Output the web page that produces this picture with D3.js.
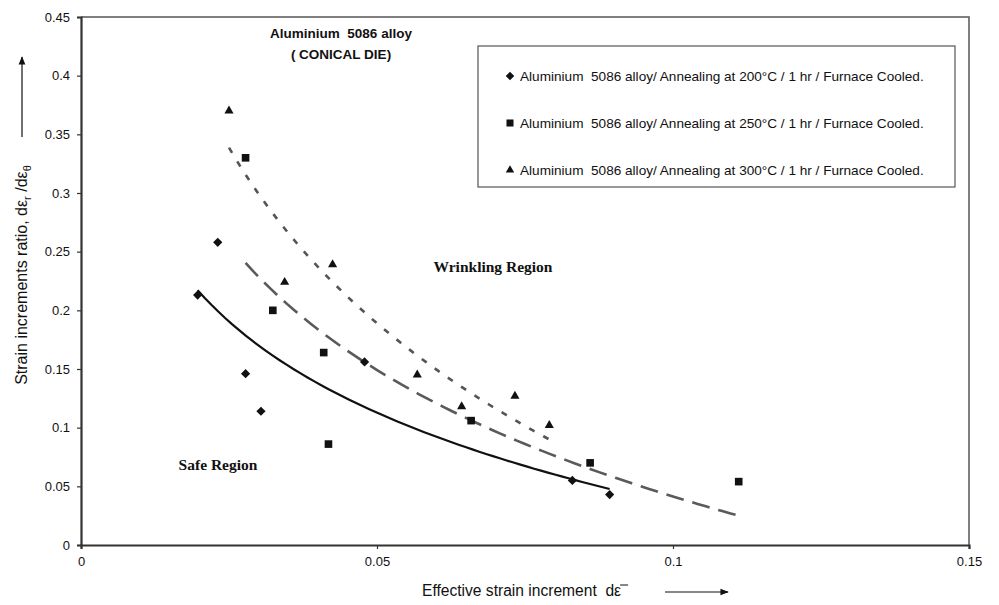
<!DOCTYPE html>
<html lang="en">
  <head>
    <meta charset="UTF-8" />
    <title>Aluminium 5086 alloy - conical die</title>
    <style>
      body {
        margin: 0;
        background: #fff;
      }
      text {
        font-family: "Liberation Sans", Arial, sans-serif;
        fill: #111;
      }
      .region {
        font-family: "Liberation Serif", "Times New Roman", serif;
        font-weight: bold;
        font-size: 15.5px;
      }
    </style>
  </head>
  <body>
    <svg id="chart" width="999" height="605"></svg>
  </body>
  <script src="https://cdn.jsdelivr.net/npm/d3@7"></script>
  <script>
    // values
    let xTicks = [0, 0.05, 0.1, 0.15];
    let yTicks = [0, 0.05, 0.1, 0.15, 0.2, 0.25, 0.3, 0.35, 0.4, 0.45];

    let x200 = [0.0197, 0.0231, 0.0278, 0.0304, 0.0479, 0.083, 0.0893];
    let y200 = [0.213, 0.258, 0.146, 0.114, 0.156, 0.055, 0.043];

    let x250 = [0.0278, 0.0324, 0.041, 0.0418, 0.0659, 0.086, 0.1111];
    let y250 = [0.33, 0.2, 0.164, 0.086, 0.106, 0.07, 0.054];

    let x300 = [0.025, 0.0344, 0.0425, 0.0568, 0.0643, 0.0733, 0.0791];
    let y300 = [0.37, 0.224, 0.239, 0.145, 0.118, 0.127, 0.102];

    let legendLabels = [
      "Aluminium  5086 alloy/ Annealing at 200°C / 1 hr / Furnace Cooled.",
      "Aluminium  5086 alloy/ Annealing at 250°C / 1 hr / Furnace Cooled.",
      "Aluminium  5086 alloy/ Annealing at 300°C / 1 hr / Furnace Cooled.",
    ];

    let series = [
      { xs: x200, ys: y200, symbol: d3.symbolDiamond2, size: 54, dash: null, color: "#111", width: 2.2 },
      { xs: x250, ys: y250, symbol: d3.symbolSquare2, size: 74, dash: "18,9", color: "#5a5a5a", width: 2.6 },
      { xs: x300, ys: y300, symbol: d3.symbolTriangle2, size: 60, dash: "6,10", color: "#555", width: 2.6 },
    ];

    let svg = d3.select("#chart");
    let plotL = 81, plotR = 969, plotT = 17, plotB = 545;

    let x = d3.scaleLinear().domain([0, 0.15]).range([plotL, plotR]);
    let y = d3.scaleLinear().domain([0, 0.45]).range([plotB, plotT]);

    // frame (top + right)
    svg.append("path")
      .attr("d", `M${plotL},${plotT}H${plotR}V${plotB}`)
      .attr("fill", "none")
      .attr("stroke", "#555")
      .attr("stroke-width", 1.5);

    let xAxis = d3.axisBottom(x).tickValues(xTicks).tickFormat((d) => d).tickSize(4).tickPadding(8);
    let yAxis = d3.axisLeft(y).tickValues(yTicks).tickFormat((d) => d).tickSize(4).tickPadding(7);

    let gx = svg.append("g").attr("transform", `translate(0,${plotB})`).call(xAxis);
    let gy = svg.append("g").attr("transform", `translate(${plotL},0)`).call(yAxis);
    [gx, gy].forEach((g) => {
      g.select(".domain").attr("stroke", "#333").attr("stroke-width", 2.2);
      g.selectAll(".tick line").attr("stroke", "#333").attr("stroke-width", 1.2);
      g.selectAll(".tick text")
        .style("font-family", "'Liberation Sans', Arial, sans-serif")
        .style("font-size", "13px")
        .attr("fill", "#222");
    });

    // logarithmic trend lines (least squares on ln x), drawn over each data range
    function logFit(xs, ys) {
      let lx = xs.map(Math.log);
      let mx = d3.mean(lx), my = d3.mean(ys);
      let sxy = d3.sum(lx, (v, i) => (v - mx) * (ys[i] - my));
      let sxx = d3.sum(lx, (v) => (v - mx) * (v - mx));
      let b = sxy / sxx;
      return (v) => my + b * (Math.log(v) - mx);
    }

    let line = d3.line().x((d) => x(d[0])).y((d) => y(d[1]));

    series.forEach((s) => {
      let f = logFit(s.xs, s.ys);
      let [lo, hi] = d3.extent(s.xs);
      let pts = d3.range(0, 61).map((i) => {
        let v = lo + ((hi - lo) * i) / 60;
        return [v, f(v)];
      });
      svg.append("path")
        .datum(pts)
        .attr("d", line)
        .attr("fill", "none")
        .attr("stroke", s.color)
        .attr("stroke-width", s.width)
        .attr("stroke-dasharray", s.dash);
    });

    series.forEach((s) => {
      svg.append("g")
        .selectAll("path")
        .data(s.xs.map((v, i) => [v, s.ys[i]]))
        .join("path")
        .attr("d", d3.symbol().type(s.symbol).size(s.size))
        .attr("transform", (d) => `translate(${x(d[0])},${y(d[1])})`)
        .attr("fill", "#111");
    });

    // legend
    let legend = svg.append("g");
    legend.append("rect")
      .attr("x", 478).attr("y", 46).attr("width", 477).attr("height", 141)
      .attr("fill", "#fff").attr("stroke", "#555").attr("stroke-width", 1.2);
    legendLabels.forEach((label, i) => {
      let ly = 76 + i * 47;
      legend.append("path")
        .attr("d", d3.symbol().type(series[i].symbol).size(series[i].size * 0.85))
        .attr("transform", `translate(510,${ly})`)
        .attr("fill", "#111");
      legend.append("text")
        .attr("x", 520).attr("y", ly + 4.5)
        .style("font-size", "13.6px")
        .style("white-space", "pre")
        .text(label);
    });

    // title
    svg.append("text").attr("x", 341).attr("y", 37.5).attr("text-anchor", "middle")
      .style("font-weight", "bold").style("font-size", "13.5px").style("white-space", "pre")
      .text("Aluminium  5086 alloy");
    svg.append("text").attr("x", 341).attr("y", 59).attr("text-anchor", "middle")
      .style("font-weight", "bold").style("font-size", "13.5px")
      .text("( CONICAL DIE)");

    // region notes
    svg.append("text").attr("class", "region").attr("x", 493).attr("y", 272)
      .attr("text-anchor", "middle").text("Wrinkling Region");
    svg.append("text").attr("class", "region").attr("x", 218).attr("y", 470)
      .attr("text-anchor", "middle").text("Safe Region");

    // arrow marker
    svg.append("defs").append("marker")
      .attr("id", "arrow").attr("viewBox", "0 0 10 10").attr("refX", 9).attr("refY", 5)
      .attr("markerWidth", 7).attr("markerHeight", 7).attr("orient", "auto")
      .append("path").attr("d", "M0,1L10,5L0,9Z").attr("fill", "#111");

    // x axis title
    let xt = svg.append("text").attr("x", 422).attr("y", 596)
      .style("font-size", "15.6px").style("white-space", "pre")
      .text("Effective strain increment  dε");
    let xb = xt.node().getBBox();
    svg.append("line")
      .attr("x1", xb.x + xb.width - 1).attr("x2", xb.x + xb.width + 7)
      .attr("y1", xb.y + 3).attr("y2", xb.y + 3)
      .attr("stroke", "#111").attr("stroke-width", 1);
    svg.append("line").attr("x1", 665).attr("x2", 728).attr("y1", 592).attr("y2", 592)
      .attr("stroke", "#111").attr("stroke-width", 1.2).attr("marker-end", "url(#arrow)");

    // y axis title
    let yt = svg.append("text")
      .attr("transform", "translate(27,275) rotate(-90)")
      .attr("text-anchor", "middle")
      .style("font-size", "16px");
    yt.append("tspan").text("Strain increments ratio, dε");
    yt.append("tspan").attr("dy", 4).style("font-size", "11px").text("r");
    yt.append("tspan").attr("dy", -4).text(" /dε");
    yt.append("tspan").attr("dy", 4).style("font-size", "11px").text("θ");
    svg.append("line").attr("x1", 22).attr("x2", 22).attr("y1", 137).attr("y2", 57)
      .attr("stroke", "#111").attr("stroke-width", 1.2).attr("marker-end", "url(#arrow)");
  </script>
</html>
